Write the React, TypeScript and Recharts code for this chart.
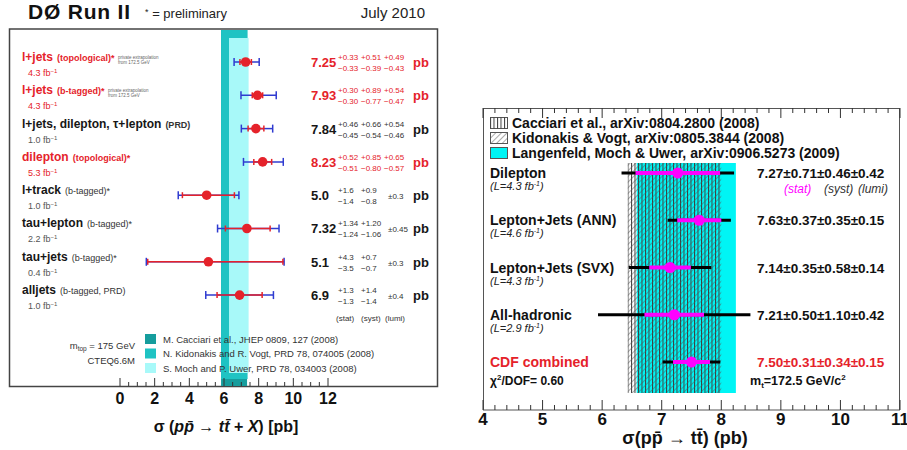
import { ScatterChart, Scatter, XAxis, YAxis, ErrorBar, ReferenceArea } from "recharts"

const FONT = "'Liberation Sans', Arial, Helvetica, sans-serif"
const RED = "#e5222a"
const BLUE = "#2f3bd0"
const MAGENTA = "#ff00ff"

// D0 panel (left)
const d0Channels = ["l+jets", "l+jets", "l+jets, dilepton, τ+lepton", "dilepton", "l+track", "tau+lepton", "tau+jets", "alljets"]
const d0Tags = ["(topological)*", "(b-tagged)*", "(PRD)", "(topological)*", "(b-tagged)*", "(b-tagged)*", "(b-tagged)*", "(b-tagged, PRD)"]
const d0Lumi = ["4.3", "4.3", "1.0", "5.3", "1.0", "2.2", "0.4", "1.0"]
const d0Xsec = [7.25, 7.93, 7.84, 8.23, 5.0, 7.32, 5.1, 6.9]
const d0StatUp = [0.33, 0.3, 0.46, 0.52, 1.6, 1.34, 4.3, 1.3]
const d0StatDn = [0.33, 0.3, 0.45, 0.51, 1.4, 1.24, 3.5, 1.3]
const d0SystUp = [0.51, 0.89, 0.66, 0.85, 0.9, 1.2, 0.7, 1.4]
const d0SystDn = [0.39, 0.77, 0.54, 0.8, 0.8, 1.06, 0.7, 1.4]
const d0LumiUp = [0.49, 0.54, 0.54, 0.65, 0.3, 0.45, 0.3, 0.4]
const d0LumiDn = [0.43, 0.47, 0.46, 0.57, 0.3, 0.45, 0.3, 0.4]
const d0Digits = [2, 2, 2, 2, 1, 2, 1, 1]
const d0Highlight = [true, true, false, true, false, false, false, false]

const d0Theory = [
  "M. Cacciari et al., JHEP 0809, 127 (2008)",
  "N. Kidonakis and R. Vogt, PRD 78, 074005 (2008)",
  "S. Moch and P. Uwer, PRD 78, 034003 (2008)",
]
const d0TheoryLow = [5.83, 5.83, 6.29]
const d0TheoryHigh = [7.33, 7.36, 7.42]
const d0TheoryColors = ["#169d9d", "#1fc3c3", "#a8f9f9"]

const d0Ticks = [0, 0.5, 1, 1.5, 2, 2.5, 3, 3.5, 4, 4.5, 5, 5.5, 6, 6.5, 7, 7.5, 8, 8.5, 9, 9.5, 10, 10.5, 11, 11.5, 12]
const d0TickLabels = [0, 2, 4, 6, 8, 10, 12]

// CDF panel (right)
const cdfChannels = ["Dilepton", "Lepton+Jets (ANN)", "Lepton+Jets (SVX)", "All-hadronic", "CDF combined"]
const cdfLumi = ["4.3", "4.6", "4.3", "2.9", ""]
const cdfXsec = [7.27, 7.63, 7.14, 7.21, 7.5]
const cdfStat = [0.71, 0.37, 0.35, 0.5, 0.31]
const cdfSyst = [0.46, 0.35, 0.58, 1.1, 0.34]
const cdfLumiErr = [0.42, 0.15, 0.14, 0.42, 0.15]
const cdfChi2 = "0.60"

const cdfTheory = [
  "Cacciari et al., arXiv:0804.2800 (2008)",
  "Kidonakis & Vogt, arXiv:0805.3844 (2008)",
  "Langenfeld, Moch & Uwer, arXiv:0906.5273 (2009)",
]
const cdfTheoryLow = [6.43, 6.43, 6.58]
const cdfTheoryHigh = [8.0, 8.0, 8.245]
const cdfTheoryFills = ["url(#cacStripes)", "url(#kidHatch)", "#00f5f5"]

const cdfTicks = [4, 4.2, 4.4, 4.6, 4.8, 5, 5.2, 5.4, 5.6, 5.8, 6, 6.2, 6.4, 6.6, 6.8, 7, 7.2, 7.4, 7.6, 7.8, 8, 8.2, 8.4, 8.6, 8.8, 9, 9.2, 9.4, 9.6, 9.8, 10, 10.2, 10.4, 10.6, 10.8, 11]

const quad = (a: number, b: number, c: number) => Math.sqrt(a * a + b * b + c * c)

const d0Data = d0Xsec.map((x, i) => ({
  x,
  y: i,
  stat: [d0StatDn[i], d0StatUp[i]],
  tot: [quad(d0StatDn[i], d0SystDn[i], d0LumiDn[i]), quad(d0StatUp[i], d0SystUp[i], d0LumiUp[i])],
}))
const d0Rows = d0Xsec.map((_, i) => i)

const cdfData = cdfXsec.map((x, i) => ({
  x,
  y: i,
  stat: cdfStat[i],
  tot: quad(cdfStat[i], cdfSyst[i], cdfLumiErr[i]),
}))
const cdfRows = cdfXsec.map((_, i) => i)

// y domains chosen so rows sit where the frames put them
const D0_Y = [-0.961, 9.73]
const CDF_Y = [-1.376, 5.016]

function D0XTick({ x, y, payload }: any) {
  const v = payload.value
  const major = d0TickLabels.includes(v)
  return (
    <g>
      <line x1={x} x2={x} y1={y} y2={y - (major ? 8 : 4)} stroke="#333" strokeWidth={1} />
      {major && (
        <text x={x} y={y + 18} textAnchor="middle" fontFamily={FONT} fontSize={16} fontWeight="bold" fill="#111">
          {v}
        </text>
      )}
    </g>
  )
}

function CdfXTick({ x, y, payload }: any) {
  const v = payload.value
  const major = Number.isInteger(v)
  return (
    <g>
      <line x1={x} x2={x} y1={y} y2={y - (major ? 10 : 5)} stroke="#333" strokeWidth={1} />
      {major && (
        <text x={x} y={y + 15} textAnchor="middle" fontFamily={FONT} fontSize={17} fontWeight="bold" fill="#111">
          {v}
        </text>
      )}
    </g>
  )
}

function CdfTopTick({ x, y, payload }: any) {
  const major = Number.isInteger(payload.value)
  return <line x1={x} x2={x} y1={y} y2={y + (major ? 10 : 5)} stroke="#333" strokeWidth={1} />
}

function errText(up: number, dn: number, d: number) {
  return up === dn ? null : [`+${up.toFixed(d)}`, `−${dn.toFixed(d)}`]
}

function D0RowTick({ y, payload }: any) {
  const i = payload.value as number
  const red = d0Highlight[i]
  const main = red ? RED : "#161616"
  const soft = red ? RED : "#555"
  const d = d0Digits[i]
  const lumi = errText(d0LumiUp[i], d0LumiDn[i], d)
  const tagBold = red || d0Tags[i] === "(PRD)"
  return (
    <g fontFamily={FONT}>
      <text x={22} y={y - 1} fill={main} fontSize={12} fontWeight="bold">
        {d0Channels[i]}
        <tspan dx={4} fontSize={9} fontWeight={tagBold ? "bold" : "normal"} fill={red ? RED : "#333"}>
          {d0Tags[i]}
        </tspan>
      </text>
      {i < 2 && (
        <g fontSize={4.5} fill="#666">
          <text x={i === 0 ? 118 : 108} y={y - 3.5}>private extrapolation</text>
          <text x={i === 0 ? 118 : 108} y={y + 2}>from 172.5 GeV</text>
        </g>
      )}
      <text x={28} y={y + 14} fontSize={9} fill={soft}>
        {d0Lumi[i]} fb<tspan dy={-3} fontSize={6}>−1</tspan>
      </text>
      <text x={311} y={y + 5} fontSize={13} fontWeight="bold" fill={main}>
        {d0Xsec[i].toFixed(d)}
      </text>
      <g fontSize={8} fill={red ? RED : "#333"}>
        <text x={338} y={y - 2}>+{d0StatUp[i].toFixed(d)}</text>
        <text x={338} y={y + 9}>−{d0StatDn[i].toFixed(d)}</text>
        <text x={361} y={y - 2}>+{d0SystUp[i].toFixed(d)}</text>
        <text x={361} y={y + 9}>−{d0SystDn[i].toFixed(d)}</text>
        {lumi ? (
          <>
            <text x={384} y={y - 2}>{lumi[0]}</text>
            <text x={384} y={y + 9}>{lumi[1]}</text>
          </>
        ) : (
          <text x={388} y={y + 4}>±{d0LumiUp[i].toFixed(d)}</text>
        )}
      </g>
      <text x={413} y={y + 5} fontSize={13} fontWeight="bold" fill={main}>
        pb
      </text>
    </g>
  )
}

function CdfRowTick({ y, payload }: any) {
  const i = payload.value as number
  const last = i === cdfChannels.length - 1
  const color = last ? RED : "#111"
  const value = `${cdfXsec[i].toFixed(2)}±${cdfStat[i].toFixed(2)}±${cdfSyst[i].toFixed(2)}±${cdfLumiErr[i].toFixed(2)}`
  return (
    <g fontFamily={FONT}>
      <text x={20} y={y + 5} fontSize={14} fontWeight="bold" fill={color}>
        {cdfChannels[i]}
      </text>
      {last ? (
        <text x={20} y={y + 23} fontSize={12} fontWeight="bold" fill="#111">
          χ<tspan dy={-5} fontSize={8}>2</tspan>
          <tspan dy={5}>/DOF= {cdfChi2}</tspan>
        </text>
      ) : (
        <text x={20} y={y + 17} fontSize={11} fontStyle="italic" fill="#222">
          (L={cdfLumi[i]} fb<tspan dy={-4} fontSize={7}>-1</tspan>
          <tspan dy={4}>)</tspan>
        </text>
      )}
      <text x={287} y={y + 5} fontSize={13.5} fontWeight="bold" fill={color}>
        {value}
      </text>
      {i === 0 && (
        <g fontSize={12} fontStyle="italic" fill="#333">
          <text x={314} y={y + 19.5} fill={MAGENTA}>
            (stat)
          </text>
          <text x={354} y={y + 19.5}>
            (syst)
          </text>
          <text x={388} y={y + 19.5}>
            (lumi)
          </text>
        </g>
      )}
      {last && (
        <text x={280} y={y + 23} fontSize={12.5} fontWeight="bold" fill="#111">
          m<tspan dy={3} fontSize={8}>t</tspan>
          <tspan dy={-3}>=172.5 GeV/c</tspan>
          <tspan dy={-5} fontSize={8}>2</tspan>
        </text>
      )}
    </g>
  )
}

const redDot = (p: any) => <circle cx={p.cx} cy={p.cy} r={4.8} fill={RED} />
const magentaDot = (p: any) => <circle cx={p.cx} cy={p.cy} r={5.5} fill={MAGENTA} />

export default function App() {
  return (
    <div style={{ position: "absolute", left: 0, top: 0, width: 907, height: 450, background: "#fff", fontFamily: FONT }}>
      <svg width={907} height={450} style={{ position: "absolute", left: 0, top: 0 }}>
        <defs>
          <pattern id="cacStripes" patternUnits="userSpaceOnUse" width={3.5} height={3}>
            <rect x={0} y={0} width={1} height={3} fill="#3a3a3a" />
          </pattern>
          <pattern id="kidHatch" patternUnits="userSpaceOnUse" width={4} height={4} patternTransform="rotate(45)">
            <rect x={0} y={0} width={0.5} height={4} fill="#555" />
          </pattern>
        </defs>
        <rect x={9.5} y={29} width={428} height={357.5} fill="none" stroke="#444" strokeWidth={1.5} />
        <rect x={483.5} y={108.5} width={416} height={301.5} fill="none" stroke="#555" strokeWidth={1} />
      </svg>

      <div style={{ position: "absolute", left: 0, top: 0 }}>
        <ScatterChart width={450} height={450} margin={{ top: 30, right: 122, bottom: 0, left: 0 }}>
          <XAxis
            type="number"
            dataKey="x"
            domain={[0, 12]}
            ticks={d0Ticks}
            interval={0}
            height={64}
            axisLine={false}
            tickLine={false}
            tickSize={0}
            tickMargin={0}
            tick={D0XTick}
            allowDataOverflow
          />
          <YAxis
            type="number"
            dataKey="y"
            domain={D0_Y}
            reversed
            ticks={d0Rows}
            interval={0}
            width={120}
            axisLine={false}
            tickLine={false}
            tick={D0RowTick}
            allowDataOverflow
          />
          <ReferenceArea x1={d0TheoryLow[0]} x2={d0TheoryHigh[0]} y1={D0_Y[0]} y2={D0_Y[1]} fill={d0TheoryColors[0]} fillOpacity={1} stroke="none" ifOverflow="visible" />
          <ReferenceArea x1={d0TheoryLow[1]} x2={d0TheoryHigh[1]} y1={D0_Y[0]} y2={9.52} fill={d0TheoryColors[1]} fillOpacity={1} stroke="none" ifOverflow="visible" />
          <ReferenceArea x1={d0TheoryLow[2]} x2={d0TheoryHigh[2]} y1={-0.72} y2={9.34} fill={d0TheoryColors[2]} fillOpacity={1} stroke="none" ifOverflow="visible" />
          <Scatter data={d0Data} shape={redDot} isAnimationActive={false}>
            <ErrorBar dataKey="tot" direction="x" width={4} stroke={BLUE} strokeWidth={1.5} isAnimationActive={false} />
            <ErrorBar dataKey="stat" direction="x" width={3} stroke={RED} strokeWidth={1.5} isAnimationActive={false} />
          </Scatter>
        </ScatterChart>
      </div>

      <div style={{ position: "absolute", left: 470, top: 0 }}>
        <ScatterChart width={437} height={450} margin={{ top: 107, right: 7, bottom: 0, left: 0 }}>
          <XAxis
            type="number"
            dataKey="x"
            domain={[4, 11]}
            ticks={cdfTicks}
            interval={0}
            height={40}
            axisLine={false}
            tickLine={false}
            tickSize={0}
            tickMargin={0}
            tick={CdfXTick}
            allowDataOverflow
          />
          <XAxis
            xAxisId="top"
            orientation="top"
            type="number"
            dataKey="x"
            domain={[4, 11]}
            ticks={cdfTicks}
            interval={0}
            height={1}
            axisLine={false}
            tickLine={false}
            tickSize={0}
            tickMargin={0}
            tick={CdfTopTick}
            allowDataOverflow
          />
          <YAxis
            type="number"
            dataKey="y"
            domain={CDF_Y}
            reversed
            ticks={cdfRows}
            interval={0}
            width={13}
            axisLine={false}
            tickLine={false}
            tick={CdfRowTick}
            allowDataOverflow
          />
          <ReferenceArea x1={cdfTheoryLow[2]} x2={cdfTheoryHigh[2]} y1={-0.212} y2={4.656} fill={cdfTheoryFills[2]} fillOpacity={1} stroke="none" ifOverflow="visible" />
          <ReferenceArea x1={cdfTheoryLow[0]} x2={cdfTheoryHigh[0]} y1={-0.212} y2={4.656} fill={cdfTheoryFills[0]} fillOpacity={1} stroke="none" ifOverflow="visible" />
          <ReferenceArea x1={cdfTheoryLow[1]} x2={cdfTheoryHigh[1]} y1={-0.212} y2={4.656} fill={cdfTheoryFills[1]} fillOpacity={1} stroke="none" ifOverflow="visible" />
          <Scatter data={cdfData} shape={magentaDot} isAnimationActive={false}>
            <ErrorBar dataKey="tot" direction="x" width={0} stroke="#000" strokeWidth={3} isAnimationActive={false} />
            <ErrorBar dataKey="stat" direction="x" width={0} stroke={MAGENTA} strokeWidth={4} isAnimationActive={false} />
          </Scatter>
        </ScatterChart>
      </div>

      <svg width={907} height={450} style={{ position: "absolute", left: 0, top: 0, pointerEvents: "none" }} fontFamily={FONT}>
        <text x={28} y={19} fontSize={21} fontWeight="bold" letterSpacing={0.8} fill="#111">
          DØ Run II
        </text>
        <text x={145} y={18} fontSize={13} fill="#222">
          <tspan fontSize={9} dy={-3}>*</tspan>
          <tspan dy={3}> = preliminary</tspan>
        </text>
        <text x={425} y={18} fontSize={15} textAnchor="end" fill="#222">
          July 2010
        </text>

        <g fontSize={8} fill="#333">
          <text x={336} y={321}>(stat)</text>
          <text x={361} y={321}>(syst)</text>
          <text x={385} y={321}>(lumi)</text>
        </g>

        {d0Theory.map((t, i) => (
          <g key={t}>
            <rect x={145} y={334 + i * 14.5} width={11} height={10} fill={d0TheoryColors[i]} />
            <text x={163} y={342.5 + i * 14.5} fontSize={9.5} fill="#333">
              {t}
            </text>
          </g>
        ))}
        <text x={135} y={349} fontSize={9.5} textAnchor="end" fill="#333">
          m<tspan dy={2} fontSize={6.5}>top</tspan>
          <tspan dy={-2}> = 175 GeV</tspan>
        </text>
        <text x={135} y={364} fontSize={9.5} textAnchor="end" fill="#333">
          CTEQ6.6M
        </text>

        <text x={226} y={432} fontSize={16} fontWeight="bold" textAnchor="middle" fill="#111">
          σ (<tspan fontStyle="italic">pp̄</tspan> → <tspan fontStyle="italic">tt̄</tspan> + <tspan fontStyle="italic">X</tspan>) [pb]
        </text>

        {cdfTheory.map((t, i) => (
          <g key={t}>
            <rect
              x={490.5}
              y={117.5 + i * 15}
              width={17}
              height={11}
              fill={i === 2 ? cdfTheoryFills[2] : "#fff"}
              stroke="#555"
              strokeWidth={1}
            />
            {i < 2 && <rect x={490.5} y={117.5 + i * 15} width={17} height={11} fill={cdfTheoryFills[i]} />}
            <text x={512} y={128 + i * 15} fontSize={14} fontWeight="bold" fill="#111">
              {t}
            </text>
          </g>
        ))}

        <text x={685} y={444} fontSize={18} fontWeight="bold" textAnchor="middle" fill="#111">
          σ(pp̄ → tt̄) (pb)
        </text>
      </svg>
    </div>
  )
}
